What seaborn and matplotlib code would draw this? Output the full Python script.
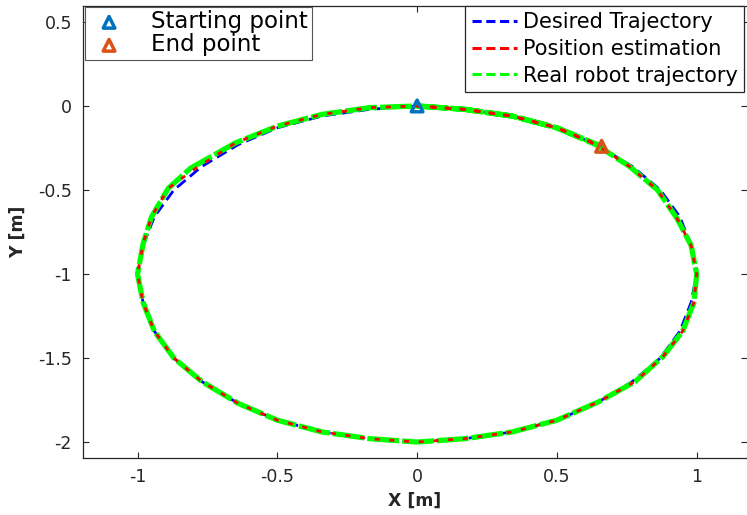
import matplotlib
matplotlib.use("Agg")
import matplotlib.pyplot as plt
import seaborn as sns

# Desired trajectory (circle around (0, -1))
x_desired = [0.00, 0.17, 0.34, 0.50, 0.64, 0.77, 0.87, 0.94, 0.98, 1.00, 0.98, 0.94, 0.87,
             0.77, 0.64, 0.50, 0.34, 0.17, 0.00, -0.17, -0.34, -0.50, -0.64, -0.77, -0.87,
             -0.94, -0.98, -1.00, -0.98, -0.94, -0.87, -0.77, -0.64, -0.50, -0.34, -0.17, 0.00]
y_desired = [0.00, -0.02, -0.06, -0.13, -0.23, -0.36, -0.50, -0.66, -0.83, -1.00, -1.17, -1.34, -1.50,
             -1.64, -1.77, -1.87, -1.94, -1.98, -2.00, -1.98, -1.94, -1.87, -1.77, -1.64, -1.50,
             -1.34, -1.17, -1.00, -0.83, -0.66, -0.50, -0.36, -0.23, -0.13, -0.06, -0.02, 0.00]

# Position estimation
x_estim = [0.00, 0.17, 0.34, 0.50, 0.64, 0.76, 0.86, 0.93, 0.98, 1.00, 0.99, 0.95, 0.88,
           0.78, 0.65, 0.50, 0.34, 0.17, 0.00, -0.17, -0.34, -0.50, -0.64, -0.77, -0.87,
           -0.94, -0.98, -1.00, -0.98, -0.95, -0.89, -0.80, -0.65, -0.50, -0.34, -0.17, 0.00,
           0.17, 0.34, 0.50, 0.66]
y_estim = [0.00, -0.02, -0.06, -0.13, -0.23, -0.36, -0.50, -0.67, -0.83, -1.00, -1.17, -1.34, -1.49,
           -1.64, -1.76, -1.87, -1.94, -1.98, -2.00, -1.98, -1.94, -1.87, -1.77, -1.64, -1.50,
           -1.34, -1.17, -1.00, -0.82, -0.66, -0.49, -0.38, -0.22, -0.12, -0.05, -0.01, 0.00,
           -0.02, -0.06, -0.13, -0.24]

# Real robot trajectory
x_real = [0.00, 0.17, 0.34, 0.50, 0.64, 0.76, 0.86, 0.93, 0.98, 1.00, 0.99, 0.95, 0.88,
          0.78, 0.65, 0.50, 0.34, 0.17, 0.00, -0.17, -0.34, -0.50, -0.64, -0.77, -0.87,
          -0.94, -0.98, -1.00, -0.98, -0.95, -0.89, -0.81, -0.65, -0.50, -0.34, -0.17, 0.00,
          0.17, 0.34, 0.50, 0.66]
y_real = [0.00, -0.02, -0.06, -0.13, -0.23, -0.36, -0.50, -0.67, -0.83, -1.00, -1.17, -1.34, -1.49,
          -1.64, -1.76, -1.87, -1.94, -1.98, -2.00, -1.98, -1.94, -1.87, -1.77, -1.64, -1.50,
          -1.34, -1.17, -1.00, -0.82, -0.66, -0.49, -0.37, -0.22, -0.12, -0.05, -0.01, 0.00,
          -0.02, -0.06, -0.13, -0.24]

start_pt = (0.0, 0.0)
end_pt = (0.66, -0.24)

sns.set_theme(style="white")
plt.rcParams['font.family'] = ['DejaVu Sans']
plt.rcParams['axes.edgecolor'] = '#262626'
plt.rcParams['axes.linewidth'] = 0.9

fig = plt.figure(figsize=(7.47, 5.15), dpi=100)
ax = fig.add_axes([83 / 747, 57 / 515, 664 / 747, 452 / 515])

sns.lineplot(x=x_desired, y=y_desired, sort=False, estimator=None, ax=ax,
             color='#0000FF', linewidth=2.0, linestyle=(0, (4, 2)), label='Desired Trajectory')
sns.lineplot(x=x_real, y=y_real, sort=False, estimator=None, ax=ax,
             color='#00FF00', linewidth=3.8, linestyle=(0, (6, 0.6)), label='Real robot trajectory')
sns.lineplot(x=x_estim, y=y_estim, sort=False, estimator=None, ax=ax,
             color='#FF0000', linewidth=2.0, linestyle=(0, (1.8, 3.5)), label='Position estimation')

h_start = ax.scatter([start_pt[0]], [start_pt[1]], marker='^', s=70, facecolors='none',
                     edgecolors='#0072BD', linewidths=2.5, zorder=5, label='Starting point')
h_end = ax.scatter([end_pt[0]], [end_pt[1]], marker='^', s=70, facecolors='none',
                   edgecolors='#D95319', linewidths=2.5, zorder=5, label='End point')

ax.set_xlim(-1.195, 1.18)
ax.set_ylim(-2.095, 0.595)
ax.set_xticks([-1, -0.5, 0, 0.5, 1])
ax.set_xticklabels(['-1', '-0.5', '0', '0.5', '1'])
ax.set_yticks([0.5, 0, -0.5, -1, -1.5, -2])
ax.set_yticklabels(['0.5', '0', '-0.5', '-1', '-1.5', '-2'])
ax.tick_params(direction='in', length=4, width=0.8, colors='#262626', labelsize=12.5,
               top=True, right=True, left=True, bottom=True, pad=7)
ax.tick_params(axis='y', pad=8)
ax.spines['right'].set_visible(False)
ax.set_xlabel('X [m]', fontsize=12.5, fontweight='bold', color='#262626', labelpad=4)
ax.set_ylabel('Y [m]', fontsize=12.5, fontweight='bold', color='#262626', labelpad=8)

# legend for the trajectories (upper right)
lines = ax.get_lines()
leg_traj = ax.legend([lines[0], lines[2], lines[1]],
                     ['Desired Trajectory', 'Position estimation', 'Real robot trajectory'],
                     loc='upper right', bbox_to_anchor=(0.995, 1.0), borderaxespad=0,
                     fontsize=15, frameon=True, fancybox=False, framealpha=1,
                     edgecolor='#262626', handlelength=2.2, handletextpad=0.25,
                     borderpad=0.3, labelspacing=0.32, labelcolor='black')
leg_traj.get_frame().set_linewidth(0.9)
for ln, c in zip(leg_traj.get_lines(), ['#0000FF', '#FF0000', '#00FF00']):
    ln.set_linestyle((0, (3, 1.5)))
    ln.set_linewidth(2.2)
    ln.set_color(c)
ax.add_artist(leg_traj)

# legend for start/end points (upper left)
leg_pts = ax.legend([h_start, h_end], ['Starting point', 'End point'],
                    loc='upper left', bbox_to_anchor=(0.003, 0.998), borderaxespad=0,
                    fontsize=16.5, frameon=True, fancybox=False, framealpha=1,
                    edgecolor='#555555', handlelength=1.8, handletextpad=0.95,
                    borderpad=0.15, labelspacing=0.0, labelcolor='black')
leg_pts.get_frame().set_linewidth(0.8)

fig.savefig('out.png', dpi=100)
